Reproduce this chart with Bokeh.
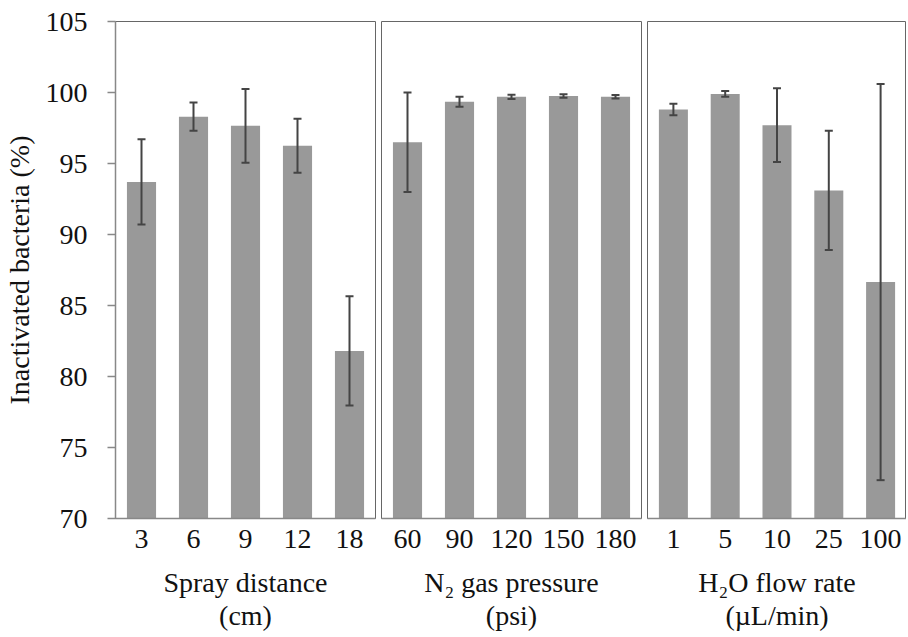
from bokeh.plotting import figure
from bokeh.models import ColumnDataSource, Whisker, TeeHead, FixedTicker
from bokeh.layouts import row
from bokeh.embed import file_html
from bokeh.resources import INLINE

# ---- data ----
dist_labels = ["3", "6", "9", "12", "18"]
dist_mean = [93.7, 98.3, 97.65, 96.25, 81.8]
dist_err = [3.0, 1.0, 2.6, 1.9, 3.85]

press_labels = ["60", "90", "120", "150", "180"]
press_mean = [96.5, 99.35, 99.7, 99.75, 99.7]
press_err = [3.5, 0.35, 0.15, 0.12, 0.12]

flow_labels = ["1", "5", "10", "25", "100"]
flow_mean = [98.8, 99.9, 97.7, 93.1, 86.65]
flow_err = [0.4, 0.2, 2.6, 4.2, 13.95]

y_ticks = [70, 75, 80, 85, 90, 95, 100, 105]

titles = ["Spray distance\n(cm)", "N\u2082 gas pressure\n(psi)", "H\u2082O flow rate\n(\u00b5L/min)"]

FONT = "Liberation Serif"
BAR = "#999999"
ERR = "#444444"
AX = "#888888"


def panel(labels, mean, err, title, first, last):
    src = ColumnDataSource(dict(
        x=labels, top=mean,
        upper=[m + e for m, e in zip(mean, err)],
        lower=[m - e for m, e in zip(mean, err)],
    ))
    p = figure(x_range=labels, y_range=(70, 105),
               frame_width=259 if last else 260, frame_height=497,
               output_backend="svg", toolbar_location=None,
               min_border_top=21, min_border_bottom=100,
               min_border_left=112 if first else 3,
               min_border_right=0 if last else 3)
    p.x_range.range_padding = 0
    p.vbar(x="x", top="top", bottom=70, width=0.56, source=src,
           fill_color=BAR, line_color=None)
    w = Whisker(source=src, base="x", upper="upper", lower="lower",
                line_color=ERR, line_width=2, level="overlay",
                upper_head=TeeHead(size=8, line_color=ERR, line_width=2),
                lower_head=TeeHead(size=8, line_color=ERR, line_width=2))
    p.add_layout(w)
    p.xgrid.visible = False
    p.ygrid.visible = False
    p.outline_line_color = "#666666"
    p.outline_line_width = 1

    xa = p.xaxis[0]
    xa.axis_line_color = AX
    xa.axis_line_width = 1.5
    xa.major_tick_line_color = None
    xa.minor_tick_line_color = None
    xa.major_label_text_font = FONT
    xa.major_label_text_font_size = "28px"
    xa.major_label_text_color = "#111111"
    xa.major_label_standoff = 5
    xa.axis_label = title
    xa.axis_label_text_font = FONT
    xa.axis_label_text_font_size = "28px"
    xa.axis_label_text_font_style = "normal"
    xa.axis_label_text_color = "#111111"
    xa.axis_label_text_line_height = 1.08
    xa.axis_label_standoff = 16

    ya = p.yaxis[0]
    if first:
        ya.ticker = FixedTicker(ticks=y_ticks)
        ya.axis_line_color = AX
        ya.axis_line_width = 1.5
        ya.major_tick_line_color = AX
        ya.major_tick_line_width = 1.5
        ya.major_tick_out = 8
        ya.major_tick_in = 0
        ya.minor_tick_line_color = None
        ya.major_label_text_font = FONT
        ya.major_label_text_font_size = "28px"
        ya.major_label_text_color = "#111111"
        ya.major_label_standoff = 20
        ya.axis_label = "Inactivated bacteria (%)"
        ya.axis_label_text_font = FONT
        ya.axis_label_text_font_size = "28px"
        ya.axis_label_text_font_style = "normal"
        ya.axis_label_text_color = "#111111"
        ya.axis_label_standoff = 8
    else:
        ya.visible = False
    return p


p1 = panel(dist_labels, dist_mean, dist_err, titles[0], True, False)
p2 = panel(press_labels, press_mean, press_err, titles[1], False, False)
p3 = panel(flow_labels, flow_mean, flow_err, titles[2], False, True)

layout = row(p1, p2, p3, spacing=0)
open("out.html", "w").write(file_html(layout, INLINE))
